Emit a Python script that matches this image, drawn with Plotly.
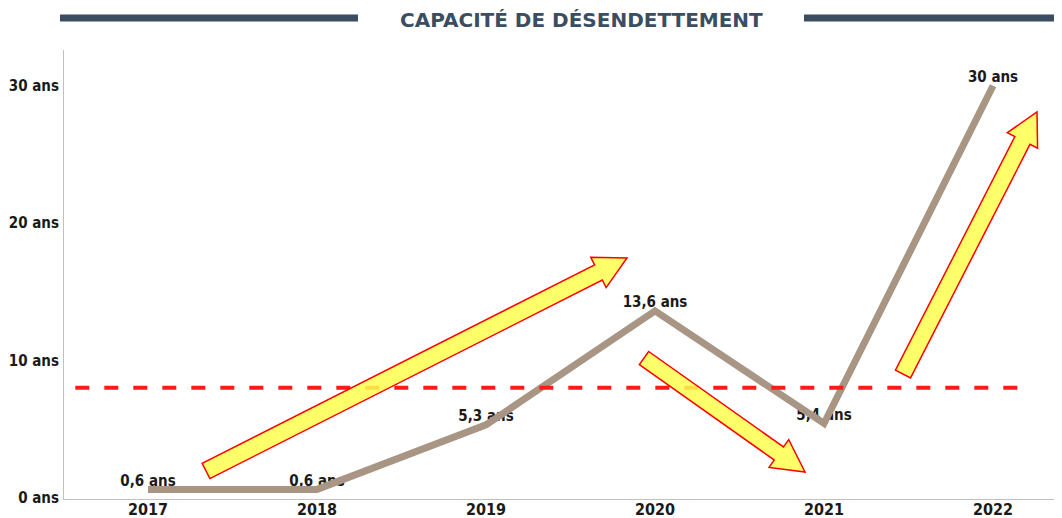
import math
import plotly.graph_objects as go

years = [2017, 2018, 2019, 2020, 2021, 2022]
values = [0.6, 0.6, 5.3, 13.6, 5.4, 30]
labels = ["0,6 ans", "0,6 ans", "5,3 ans", "13,6 ans", "5,4 ans", "30 ans"]
y_ticks = [0, 10, 20, 30]
y_tick_labels = ["0 ans", "10 ans", "20 ans", "30 ans"]
threshold = 8
title_text = "CAPACITÉ DE DÉSENDETTEMENT"

# page offset (default body margin) and layout in window pixels
OFF = 8
W, H = 1062 - OFF, 518 - OFF
PLOT_L, PLOT_R, PLOT_T, PLOT_B = 64, 1062, 50, 499  # window px
ML = PLOT_L - OFF
MR = (1062 - OFF) - (PLOT_R - OFF)
MT = PLOT_T - OFF
MB = H - (PLOT_B - OFF)
PW, PH = W - ML - MR, H - MT - MB

# decorative arrows in window px: (tail, tip, shaft_width, head_width, head_length)
arrows = [
    ((206, 471), (627, 258), 17, 34, 32),
    ((644, 358), (805, 472), 16, 34, 32),
    ((903, 374), (1037, 112), 17, 34, 32),
]


def to_paper(px, py):
    return (px - PLOT_L) / PW, (PLOT_B - py) / PH


def arrow_path(tail, tip, sw, hw, hl):
    x0, y0 = tail
    x1, y1 = tip
    dx, dy = x1 - x0, y1 - y0
    L = math.hypot(dx, dy)
    ux, uy = dx / L, dy / L
    nx, ny = -uy, ux
    bx, by = x1 - ux * hl, y1 - uy * hl
    pts = [
        (x0 + nx * sw / 2, y0 + ny * sw / 2),
        (bx + nx * sw / 2, by + ny * sw / 2),
        (bx + nx * hw / 2, by + ny * hw / 2),
        (x1, y1),
        (bx - nx * hw / 2, by - ny * hw / 2),
        (bx - nx * sw / 2, by - ny * sw / 2),
        (x0 - nx * sw / 2, y0 - ny * sw / 2),
    ]
    pp = [to_paper(*p) for p in pts]
    return "M " + " L ".join(f"{a:.5f},{b:.5f}" for a, b in pp) + " Z"


LABEL_FONT = "DejaVu Sans Condensed"

fig = go.Figure()

# labels (underneath the line)
fig.add_trace(go.Scatter(
    x=years, y=values, mode="text", text=labels,
    textposition="top center",
    textfont=dict(family=LABEL_FONT, size=15, color="#1a1a1a", weight="bold"),
    hoverinfo="skip", showlegend=False,
))

fig.add_trace(go.Scatter(
    x=years, y=values, mode="lines",
    line=dict(color="#a89584", width=7),
    showlegend=False,
))

shapes = []
shapes.append(dict(
    type="line", xref="x", yref="y",
    x0=2016.57, x1=2022.16, y0=threshold, y1=threshold,
    line=dict(color="#ff1a1a", width=4, dash="14px,15px"),
    layer="above",
))
for a in arrows:
    shapes.append(dict(
        type="path", xref="paper", yref="paper",
        path=arrow_path(*a),
        fillcolor="rgba(255,255,80,0.85)",
        line=dict(color="#ff0000", width=1.5),
        layer="above",
    ))
# title bars
_, ty = to_paper(0, 18)
_, tty = to_paper(0, 19.5)
for xa, xb in [(60, 358), (804, 1062)]:
    shapes.append(dict(
        type="line", xref="paper", yref="paper",
        x0=to_paper(xa, 0)[0], x1=to_paper(xb, 0)[0], y0=ty, y1=ty,
        line=dict(color="#3b4d61", width=7),
    ))

fig.update_layout(
    width=W, height=H,
    margin=dict(l=ML, r=MR, t=MT, b=MB, autoexpand=False),
    paper_bgcolor="white", plot_bgcolor="white",
    shapes=shapes,
    annotations=[dict(
        text=title_text, xref="paper", yref="paper",
        x=to_paper(581, 0)[0], y=tty, xanchor="center", yanchor="middle",
        showarrow=False,
        font=dict(family="DejaVu Sans", size=20, color="#3b4d61", weight="bold"),
    )],
    xaxis=dict(
        range=[2016.503, 2022.408], tickvals=years, ticktext=[str(y) for y in years],
        showgrid=False, zeroline=False, showline=True, linecolor="#c0c0c0", linewidth=1,
        ticks="", ticklabelstandoff=-4,
        tickfont=dict(family=LABEL_FONT, size=16, color="#1a1a1a", weight="bold"),
        fixedrange=True, automargin=False,
    ),
    yaxis=dict(
        range=[-0.1, 32.6], tickvals=y_ticks, ticktext=y_tick_labels,
        showgrid=False, zeroline=False, showline=True, linecolor="#c0c0c0", linewidth=1,
        ticks="", ticklabelstandoff=1,
        tickfont=dict(family=LABEL_FONT, size=15, color="#1a1a1a", weight="bold"),
        fixedrange=True, automargin=False,
    ),
)

fig.write_html("out.html")
